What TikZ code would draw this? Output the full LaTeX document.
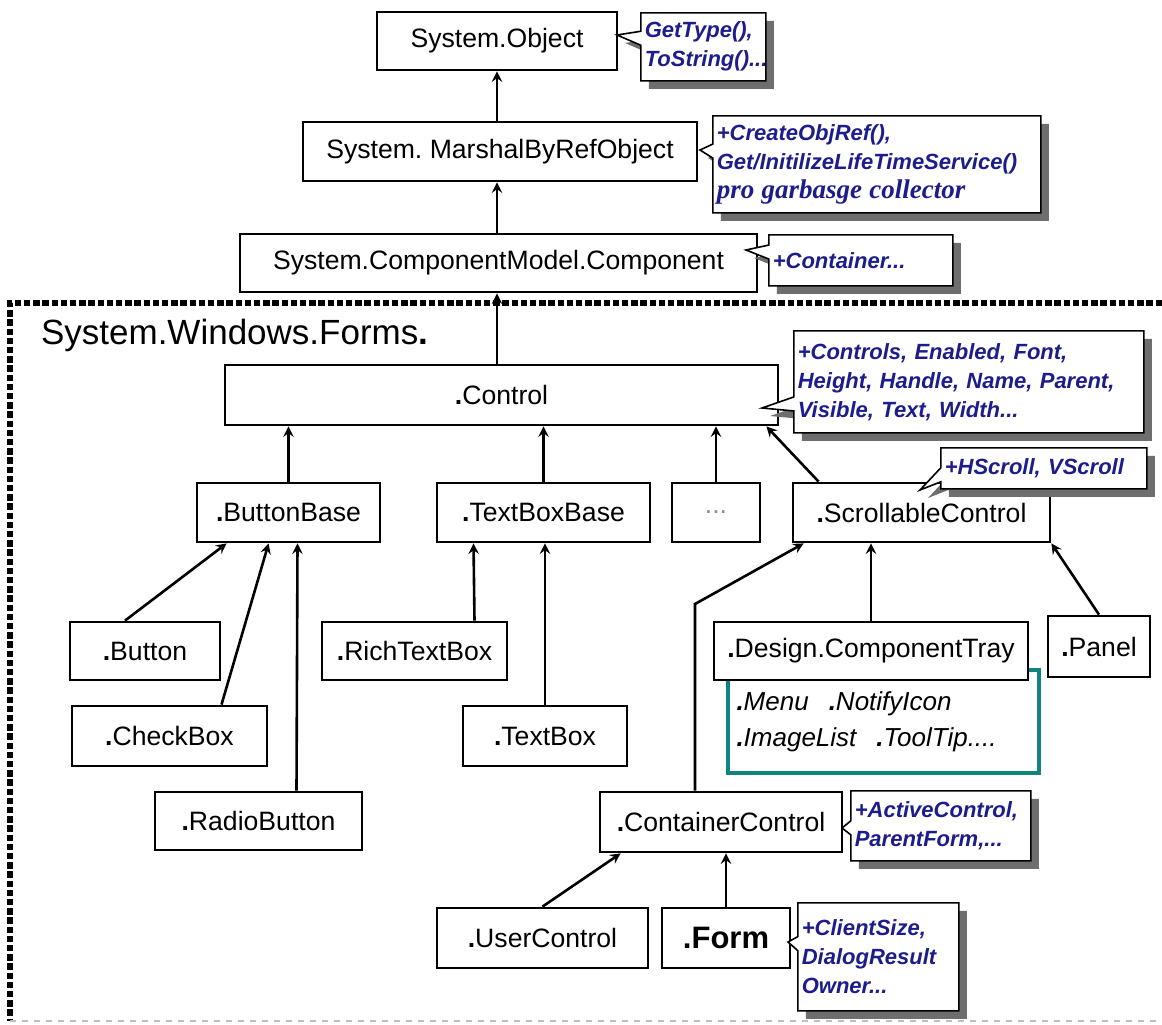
\documentclass[tikz,border=0pt]{standalone}
\usepackage{fontspec}
\setmainfont{Liberation Sans}
\newfontfamily\timesfont{Liberation Serif}
\usetikzlibrary{positioning,shadows,arrows,shapes.callouts}
\definecolor{noteBlue}{RGB}{28,28,140}
\definecolor{trayTeal}{RGB}{16,132,128}
\newcommand{\dt}{{\bfseries.}}
\frenchspacing
\tikzset{
  cls/.style={rectangle, draw, line width=1.4pt, fill=white, inner sep=0pt,
    font=\fontsize{13.3}{15}\selectfont},
  note/.style={rectangle callout, draw, line width=0.8pt, fill=white,
    anchor=north west, align=left, inner xsep=2pt, inner ysep=1pt,
    text=noteBlue, font=\fontsize{11}{14.5}\selectfont\bfseries\itshape,
    callout pointer width=7pt,
    drop shadow={shadow xshift=4pt, shadow yshift=-4pt, fill=black!57, opacity=1}},
%  noteThin/.style={note, line width=0.5pt},
  isA/.style={-stealth, line width=1.3pt},
  formsFrame/.style={line width=2.8pt, dash pattern=on 3.2pt off 1.4pt}
}

\begin{document}
\begin{tikzpicture}[x=0.5pt, y=-0.5pt]
  \useasboundingbox[fill=white] (0,0) rectangle (1162,1024);

  % namespace frame
  \draw[formsFrame] (1162,303) -- (10,303) -- (10,1021);
  \draw[black!25, dashed, line width=0.8pt] (10,1021) -- (1162,1021);
  \node[anchor=west, font=\fontsize{17.5}{20}\selectfont] (forms) at (34,335) {System.Windows.Forms\dt};

  % classes
  \node[cls, minimum width=120pt, minimum height=29pt] (obj) at (497,41) {System.Object};
  \node[cls, minimum width=197pt, minimum height=29.5pt] (marshal) at (500,151.5) {System. MarshalByRefObject};
  \node[cls, minimum width=258.5pt, minimum height=29pt] (comp) at (498.5,263) {System.ComponentModel.Component};
  \node[cls, minimum width=276.5pt, minimum height=30pt] (control) at (501.5,395) {\dt Control};

  \node[cls, minimum width=91.5pt, minimum height=29.5pt] (btnBase) at (288.5,512.5) {\dt ButtonBase};
  \node[cls, minimum width=106.5pt, minimum height=29.5pt] (tbBase) at (543.5,512.5) {\dt TextBoxBase};
  \node[cls, minimum width=44pt, minimum height=29.5pt, text=black!45] (more) at (716,512.5) {...};
  \node[cls, minimum width=128.5pt, minimum height=29.5pt] (scroll) at (921.5,512.5) {\dt ScrollableControl};

  \node[cls, minimum width=75pt, minimum height=29pt] (button) at (145,651) {\dt Button};
  \node[cls, minimum width=97.5pt, minimum height=30pt] (checkbox) at (169.5,736) {\dt CheckBox};
  \node[cls, minimum width=103.5pt, minimum height=29pt] (radio) at (258.5,821) {\dt RadioButton};
  \node[cls, minimum width=92.5pt, minimum height=29pt] (rich) at (414.5,651) {\dt RichTextBox};
  \node[cls, minimum width=82pt, minimum height=30pt] (textbox) at (545,736) {\dt TextBox};

  \node[draw=trayTeal, line width=2pt, anchor=north west, minimum width=155.5pt, minimum height=51.5pt,
    inner xsep=4pt, text width=147pt, align=left, font=\fontsize{13}{18}\selectfont\itshape]
    (trayList) at (726,668) {\dt Menu\hspace{10pt}\dt NotifyIcon\\\dt ImageList\hspace{10pt}\dt ToolTip....};
  \node[cls, minimum width=157pt, minimum height=29pt] (tray) at (871,651) {\dt Design.ComponentTray};
  \node[cls, minimum width=51pt, minimum height=30.5pt] (panel) at (1099,646.5) {\dt Panel};

  \node[cls, minimum width=121pt, minimum height=30pt] (cc) at (721,822) {\dt ContainerControl};
  \node[cls, minimum width=105.5pt, minimum height=30pt] (uc) at (542.5,938) {\dt UserControl};
  \node[cls, minimum width=64pt, minimum height=30pt, font=\fontsize{15.5}{17}\selectfont\bfseries] (form) at (726,938) {.Form};

  % inheritance
  \draw[isA] (obj.south |- marshal.north) -- (obj.south);
  \draw[isA] (obj.south |- comp.north) -- (obj.south |- marshal.south);
  \draw[isA] (obj.south |- control.north) -- (obj.south |- comp.south);
  \draw[isA] (btnBase.north) -- (btnBase.north |- control.south);
  \draw[isA] (tbBase.north) -- (tbBase.north |- control.south);
  \draw[isA] (more.north) -- (more.north |- control.south);
  \draw[isA] ([xshift=13.5pt]scroll.north west) -- ([xshift=-6.5pt]control.south east);
  \draw[isA] ([xshift=-10pt]button.north) -- ([xshift=15.5pt]btnBase.south west);
  \draw[isA] ([xshift=26pt]checkbox.north) -- ([xshift=36.5pt]btnBase.south west);
  \draw[isA] ([xshift=19pt]radio.north) -- ([xshift=4.5pt]btnBase.south);
  \draw[isA] ([xshift=30pt]rich.north) -- ([xshift=-35pt]tbBase.south);
  \draw[isA] (textbox.north) -- (textbox.north |- tbBase.south);
  \draw[isA] (tray.north) -- (tray.north |- scroll.south);
  \draw[isA] (panel.north) -- (scroll.south east);
  \coordinate (ccBend) at (695,604);
  \draw[isA] (ccBend |- cc.north) -- (ccBend) -- ([xshift=6pt]scroll.south west);
  \draw[isA] (uc.north) -- ([xshift=11pt]cc.south west);
  \draw[isA] (form.north) -- (form.north |- cc.south);

  % member notes
  \node[note, callout absolute pointer={(617,35)}, text width=58.5pt, minimum height=34pt]
    (objNote) at (640,12) {GetType(),\\ToString()...};
  \node[note, callout absolute pointer={(700,150)}, text width=160pt, minimum height=48.5pt]
    (marshalNote) at (712,115) {+CreateObjRef(),\\ Get/InitilizeLifeTimeService()\\
    {\timesfont\fontsize{13.5}{16}\selectfont pro garbasge collector}};
  \node[note, callout absolute pointer={(746,250)}, text width=88pt, minimum height=25.5pt]
    (compNote) at (768,234) {+Container...};
  \node[note, callout absolute pointer={(762,408)}, text width=171pt, minimum height=51pt]
    (controlNote) at (793,330) {+Controls, Enabled, Font,\\Height, Handle, Name, Parent,\\Visible, Text, Width...};
  \node[note, callout absolute pointer={(920,490)}, text width=99pt, minimum height=20.5pt]
    (scrollNote) at (940,447) {+HScroll, VScroll};
  \node[note, callout absolute pointer={(842,828)}, text width=86pt, minimum height=35pt]
    (ccNote) at (850,790) {+ActiveControl,\\ParentForm,...};
  \node[note, callout absolute pointer={(788,942)}, text width=76.5pt, minimum height=54pt]
    (formNote) at (797,902) {+ClientSize,\\DialogResult\\Owner...};
\end{tikzpicture}
\end{document}
